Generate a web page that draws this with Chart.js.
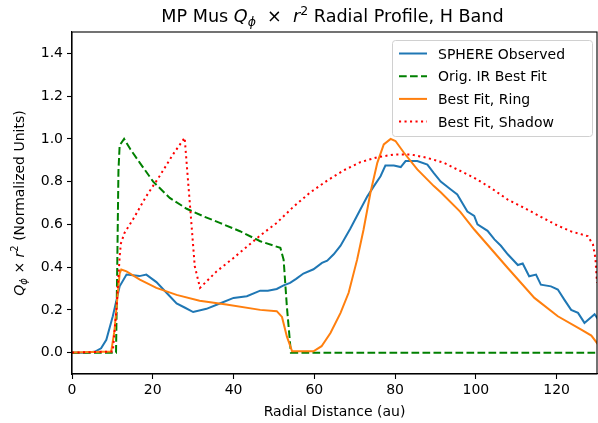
<!DOCTYPE html>
<html>
<head>
<meta charset="utf-8">
<script src="https://cdn.jsdelivr.net/npm/chart.js@4.4.0/dist/chart.umd.min.js"></script>
<style>
  html, body { margin: 0; padding: 0; background: #fff; }
  canvas { display: block; }
</style>
</head>
<body>
<canvas id="profileChart" width="598" height="423"></canvas>
<script>
// Radial profile values (x in au, y normalized)
const sphereX = [0, 3, 5.6, 7.2, 8.5, 10.1, 11.8, 13.5, 15.1, 16.7, 18.4, 20.9, 23.4, 25.9, 28, 30, 33.3, 36.6, 40, 43.3, 46.6, 48.5, 50.7, 52.4, 54, 55.5, 57.3, 59.8, 61.9, 63.2, 64.8, 66.5, 68.9, 71.4, 73.1, 74.8, 76.4, 77.6, 79.7, 81.4, 82.6, 85.5, 88, 89.6, 91.3, 93.8, 95.4, 97.9, 99.6, 100.4, 102.9, 104.6, 106.2, 107.9, 110.4, 111.6, 113.2, 114.9, 116.1, 118.6, 120.3, 121.9, 123.6, 125.3, 126.9, 129.4, 130.6];
const sphereY = [0, 0, 0.004, 0.02, 0.06, 0.17, 0.31, 0.365, 0.362, 0.358, 0.365, 0.33, 0.28, 0.23, 0.21, 0.19, 0.205, 0.23, 0.256, 0.264, 0.29, 0.29, 0.298, 0.315, 0.326, 0.345, 0.37, 0.39, 0.42, 0.43, 0.46, 0.50, 0.58, 0.67, 0.73, 0.78, 0.825, 0.875, 0.875, 0.868, 0.896, 0.896, 0.88, 0.84, 0.80, 0.763, 0.74, 0.66, 0.64, 0.60, 0.57, 0.53, 0.50, 0.46, 0.41, 0.417, 0.357, 0.365, 0.318, 0.31, 0.295, 0.248, 0.2, 0.186, 0.139, 0.18, 0.147];

const irFitX = [0, 10.9, 11.2, 11.5, 11.8, 12.9, 14.5, 16.8, 20.1, 24.2, 28.4, 32.5, 36.6, 41.6, 46.6, 51.6, 52.4, 53.2, 54.2, 130];
const irFitY = [0, 0, 0.4, 0.85, 0.97, 1.0, 0.95, 0.888, 0.80, 0.724, 0.673, 0.638, 0.607, 0.568, 0.521, 0.49, 0.435, 0.217, 0, 0];

const ringX = [0, 9.7, 10.5, 11.2, 11.8, 12.2, 13.5, 16.8, 20.9, 25.9, 31.6, 38.2, 46.6, 50.7, 52, 53.2, 54.5, 59.8, 61.8, 64, 66.5, 68.5, 70.6, 72.2, 73.9, 75.6, 77.2, 78.9, 80.1, 82.2, 85.5, 89.6, 91.3, 96.1, 99.6, 107.9, 114.5, 120.3, 126.1, 128.6, 130.6];
const ringY = [0, 0.005, 0.1, 0.25, 0.37, 0.389, 0.38, 0.342, 0.303, 0.27, 0.243, 0.225, 0.2, 0.194, 0.167, 0.076, 0.006, 0.006, 0.03, 0.092, 0.186, 0.28, 0.435, 0.576, 0.748, 0.888, 0.974, 1.0, 0.99, 0.935, 0.857, 0.779, 0.75, 0.66, 0.576, 0.396, 0.256, 0.17, 0.108, 0.08, 0.03];

const shadowX = [0, 10.1, 11.0, 11.8, 12.1, 13.0, 15.1, 18.4, 21.7, 25, 27.9, 29.1, 30.4, 31.7, 35.8, 40, 46.6, 50.7, 54.8, 58.9, 63.2, 67.3, 71.4, 75.6, 79.7, 83.9, 88, 92.1, 95.4, 99.6, 103.7, 107.9, 112, 116.1, 120.3, 123.6, 127.7, 129, 129.6, 130.0, 130.3, 131];
const shadowY = [0, 0.005, 0.2, 0.45, 0.51, 0.56, 0.623, 0.732, 0.826, 0.927, 1.005, 0.716, 0.404, 0.303, 0.38, 0.443, 0.548, 0.607, 0.682, 0.748, 0.805, 0.853, 0.891, 0.914, 0.927, 0.927, 0.911, 0.888, 0.857, 0.818, 0.771, 0.716, 0.677, 0.635, 0.594, 0.567, 0.545, 0.506, 0.443, 0.326, 0.217, 0.05];

const seriesLabels = ['SPHERE Observed', 'Orig. IR Best Fit', 'Best Fit, Ring', 'Best Fit, Shadow'];
const xTicks = [0, 20, 40, 60, 80, 100, 120];
const yTicks = [0.0, 0.2, 0.4, 0.6, 0.8, 1.0, 1.2, 1.4];

const FONT = "'DejaVu Sans', sans-serif";

function toPoints(xs, ys) {
    return xs.map((x, i) => ({ x: x, y: ys[i] }));
}

// Draw a run of text pieces (with sub/superscripts) starting at x
function drawRich(ctx, parts, x, y) {
    parts.forEach(p => {
        ctx.font = p.font;
        ctx.fillText(p.t, x, y + (p.dy || 0));
        x += ctx.measureText(p.t).width;
    });
}
function richWidth(ctx, parts) {
    let w = 0;
    parts.forEach(p => { ctx.font = p.font; w += ctx.measureText(p.t).width; });
    return w;
}

// Title, axis labels, top/right spines and legend box
const decorPlugin = {
    id: 'decor',
    afterDraw(chart) {
        const ctx = chart.ctx;
        const area = chart.chartArea;
        ctx.save();
        ctx.fillStyle = '#000';
        ctx.textBaseline = 'alphabetic';
        ctx.textAlign = 'left';

        // spines
        ctx.strokeStyle = '#000';
        ctx.lineWidth = 1.1;
        ctx.strokeRect(area.left, area.top, area.right - area.left, area.bottom - area.top);

        // title
        const n = '17.6px ' + FONT, it = 'italic 17.6px ' + FONT, sm = 'italic 12.5px ' + FONT, smn = '12.5px ' + FONT;
        const title = [
            { t: 'MP Mus ', font: n }, { t: 'Q', font: it }, { t: 'ϕ', font: sm, dy: 4 },
            { t: '  ×  ', font: n }, { t: 'r', font: it }, { t: '2', font: smn, dy: -7 },
            { t: ' Radial Profile, H Band', font: n }
        ];
        const tw = richWidth(ctx, title);
        drawRich(ctx, title, (area.left + area.right) / 2 - tw / 2 - 2, 22);

        // x label
        ctx.font = '14px ' + FONT;
        ctx.textAlign = 'center';
        ctx.fillText('Radial Distance (au)', (area.left + area.right) / 2, 416);

        // y label
        ctx.textAlign = 'left';
        const yl = [
            { t: 'Q', font: 'italic 14px ' + FONT }, { t: 'ϕ', font: 'italic 10px ' + FONT, dy: 3 },
            { t: ' × ', font: '14px ' + FONT }, { t: 'r', font: 'italic 14px ' + FONT },
            { t: '2', font: '10px ' + FONT, dy: -6 }, { t: ' (Normalized Units)', font: '14px ' + FONT }
        ];
        const yw = richWidth(ctx, yl);
        ctx.save();
        ctx.translate(24, (area.top + area.bottom) / 2);
        ctx.rotate(-Math.PI / 2);
        drawRich(ctx, yl, -yw / 2, 0);
        ctx.restore();

        // legend
        const bx = 392.5, by = 40.5, bw = 200, bh = 96;
        ctx.beginPath();
        ctx.roundRect(bx, by, bw, bh, 3);
        ctx.fillStyle = 'rgba(255,255,255,0.8)';
        ctx.fill();
        ctx.strokeStyle = '#d0d0d0';
        ctx.lineWidth = 1;
        ctx.stroke();
        chart.data.datasets.forEach((ds, i) => {
            const cy = 53.5 + i * 22.7;
            ctx.beginPath();
            ctx.setLineDash(ds.borderDash || []);
            ctx.strokeStyle = ds.borderColor;
            ctx.lineWidth = ds.borderWidth;
            ctx.moveTo(399, cy);
            ctx.lineTo(427, cy);
            ctx.stroke();
            ctx.setLineDash([]);
            ctx.fillStyle = '#000';
            ctx.font = '14px ' + FONT;
            ctx.fillText(ds.label, 438, cy + 5);
        });
        ctx.restore();
    }
};

const ctx = document.getElementById('profileChart').getContext('2d');
const chart = new Chart(ctx, {
    type: 'line',
    data: {
        datasets: [
            { label: seriesLabels[0], data: toPoints(sphereX, sphereY), borderColor: '#1f77b4', borderWidth: 2, order: 3 },
            { label: seriesLabels[1], data: toPoints(irFitX, irFitY), borderColor: '#008000', borderWidth: 2, borderDash: [7.7, 3.3], order: 2 },
            { label: seriesLabels[2], data: toPoints(ringX, ringY), borderColor: '#ff7f0e', borderWidth: 2, order: 1 },
            { label: seriesLabels[3], data: toPoints(shadowX, shadowY), borderColor: '#ff0000', borderWidth: 2, borderDash: [2.1, 3.4], order: 0 }
        ]
    },
    options: {
        responsive: false,
        animation: false,
        devicePixelRatio: 1,
        layout: { padding: { left: 0, right: 1, top: 32, bottom: 0 } },
        elements: {
            point: { radius: 0 },
            line: { tension: 0, fill: false, borderCapStyle: 'butt' }
        },
        plugins: {
            legend: { display: false },
            title: { display: false },
            tooltip: { enabled: false }
        },
        scales: {
            x: {
                type: 'linear',
                min: 0,
                max: 130,
                afterBuildTicks: scale => { scale.ticks = xTicks.map(v => ({ value: v })); },
                afterFit: scale => { scale.height = 49; },
                grid: { drawOnChartArea: false, drawTicks: true, tickLength: 5, tickWidth: 1.1, tickColor: '#000' },
                border: { display: true, color: '#000', width: 1.1 },
                ticks: { color: '#000', padding: 3, maxRotation: 0, font: { family: FONT, size: 14 } }
            },
            y: {
                min: -0.1,
                max: 1.5,
                afterBuildTicks: scale => { scale.ticks = yTicks.map(v => ({ value: v })); },
                afterFit: scale => { scale.width = 72; },
                grid: { drawOnChartArea: false, drawTicks: true, tickLength: 5, tickWidth: 1.1, tickColor: '#000' },
                border: { display: true, color: '#000', width: 1.1 },
                ticks: { color: '#000', padding: 4, font: { family: FONT, size: 14 },
                         callback: v => v.toFixed(1) }
            }
        }
    },
    plugins: [decorPlugin]
});
</script>
</body>
</html>
